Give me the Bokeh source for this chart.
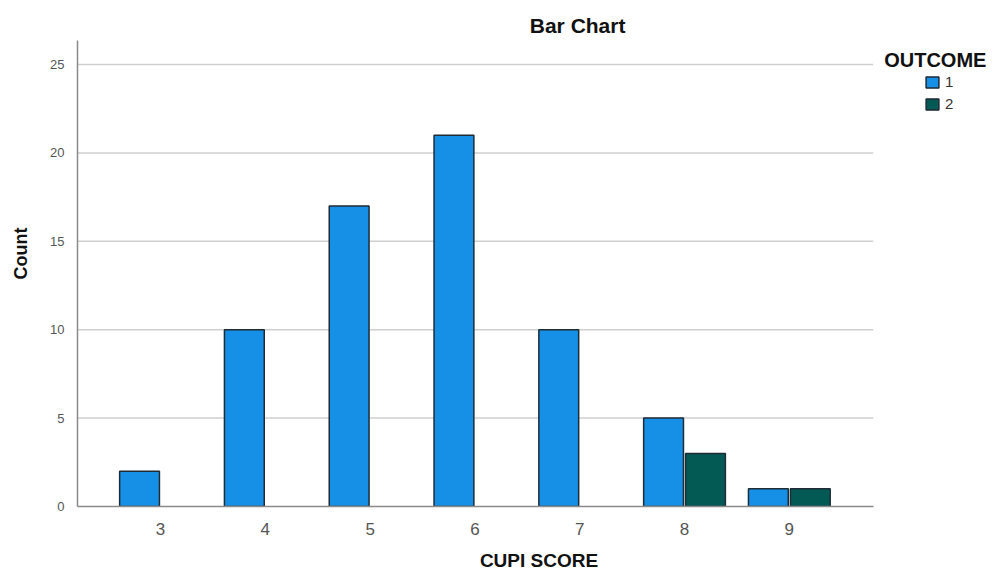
from bokeh.plotting import figure
from bokeh.models import ColumnDataSource, Legend, LegendItem, Label, FixedTicker, Range1d
from bokeh.transform import dodge
from bokeh.embed import file_html
from bokeh.resources import INLINE

scores = [3, 4, 5, 6, 7, 8, 9]
outcome1 = [2, 10, 17, 21, 10, 5, 1]
outcome2 = [0, 0, 0, 0, 0, 3, 1]
y_ticks = [0, 5, 10, 15, 20, 25]

FONT = "Liberation Sans"
C1 = "#1590e6"
C2 = "#035a55"
EDGE = "#1f2b35"

src1 = ColumnDataSource(dict(x=[s for s, v in zip(scores, outcome1) if v > 0],
                             top=[v for v in outcome1 if v > 0]))
src2 = ColumnDataSource(dict(x=[s for s, v in zip(scores, outcome2) if v > 0],
                             top=[v for v in outcome2 if v > 0]))

XL, XR = 2.208, 9.80
YT = 26.36

p = figure(width=1000, height=573, output_backend="svg", toolbar_location=None,
           x_range=Range1d(XL, 11.015), y_range=Range1d(0, 28.62),
           min_border_left=77, min_border_right=0, min_border_top=0, min_border_bottom=67)
p.outline_line_color = None
p.xgrid.grid_line_color = None
p.ygrid.grid_line_color = None

grid_y = y_ticks[1:]
p.segment(x0=[XL] * len(grid_y), x1=[XR] * len(grid_y), y0=grid_y, y1=grid_y,
          line_color="#cfcfcf", line_width=1.5, level="underlay")

r1 = p.vbar(x=dodge("x", -0.2), top="top", width=0.38, source=src1,
            fill_color=C1, line_color=EDGE, line_width=1.5)
r2 = p.vbar(x=dodge("x", 0.2), top="top", width=0.38, source=src2,
            fill_color=C2, line_color=EDGE, line_width=1.5)

p.xaxis.ticker = FixedTicker(ticks=scores)
p.yaxis.ticker = FixedTicker(ticks=y_ticks)
p.xaxis.bounds = (XL, XR)
p.yaxis.bounds = (0, YT)
for ax in (p.xaxis, p.yaxis):
    ax.axis_line_color = "#8a8a8a"
    ax.axis_line_width = 1.5
    ax.major_tick_line_color = None
    ax.minor_tick_line_color = None
    ax.major_label_text_font = FONT
    ax.major_label_text_color = "#555555"
    ax.axis_label_text_font = FONT
    ax.axis_label_text_font_style = "bold"
    ax.axis_label_text_color = "#111111"
p.xaxis.axis_label_text_font_size = "19px"
p.yaxis.axis_label_text_font_size = "18px"
p.xaxis.major_label_text_font_size = "17px"
p.yaxis.major_label_text_font_size = "13px"
p.xaxis.major_label_standoff = 10
p.yaxis.major_label_standoff = 7
p.xaxis.axis_label = "CUPI SCORE"
p.yaxis.axis_label = "Count"
p.xaxis.axis_label_standoff = 12
p.yaxis.axis_label_standoff = 16

p.add_layout(Label(x=6.98, y=27.2, text="Bar Chart", text_font=FONT, text_font_style="bold",
                   text_font_size="21px", text_align="center", text_baseline="middle",
                   text_color="#111111"))
p.add_layout(Label(x=9.905, y=25.28, text="OUTCOME", text_font=FONT, text_font_style="bold",
                   text_font_size="20px", text_align="left", text_baseline="middle",
                   text_color="#111111"))

legend = Legend(items=[LegendItem(label="1", renderers=[r1]), LegendItem(label="2", renderers=[r2])],
                location=(847, 394), orientation="vertical",
                glyph_width=16, glyph_height=14, label_text_font=FONT, label_text_font_size="15px",
                label_standoff=5, spacing=5, padding=0, margin=0, label_height=14,
                border_line_alpha=0, background_fill_alpha=0, label_text_color="#333333")
p.add_layout(legend, "center")

open("out.html", "w").write(file_html(p, INLINE))
